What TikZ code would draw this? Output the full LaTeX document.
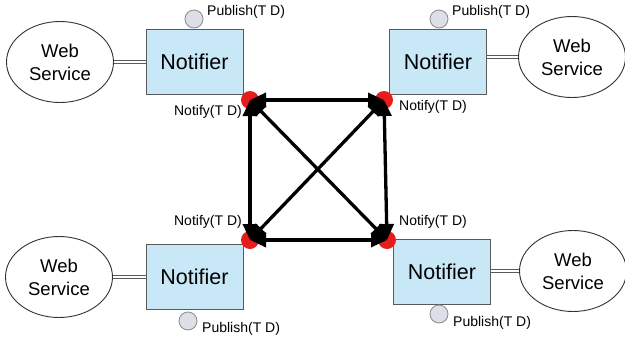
\documentclass[tikz,border=0pt]{standalone}
\usepackage{fontspec}
\setmainfont{Liberation Sans}
\usetikzlibrary{arrows.meta,shapes.geometric}
\definecolor{boxfill}{RGB}{200,232,248}
\definecolor{boxline}{RGB}{90,90,90}
\definecolor{pubfill}{RGB}{220,223,232}
\definecolor{dotred}{RGB}{232,28,28}
\tikzset{
  notifier/.style={draw=boxline, line width=1pt, fill=boxfill, minimum width=97pt, minimum height=65pt, inner sep=0pt, font=\fontsize{21.5}{25}\selectfont},
  service/.style={draw=black!80, line width=0.9pt, ellipse, minimum width=107pt, minimum height=81pt, inner sep=0pt, align=center, font=\fontsize{18.5}{23}\selectfont},
  pubport/.style={circle, draw=black!45, line width=0.8pt, fill=pubfill, minimum size=18pt, inner sep=0pt},
  notifydot/.style={circle, fill=dotred, minimum size=18pt, inner sep=0pt},
  portlabel/.style={font=\fontsize{14}{16}\selectfont, inner sep=0pt},
  servicelink/.style={draw=boxline, line width=4.4pt},
  servicelinkgap/.style={draw=white, line width=1.6pt},
  flow/.style={line width=3.3pt, {Triangle[length=16pt,width=14pt]}-{Triangle[length=16pt,width=14pt]}}
}
\begin{document}
\begin{tikzpicture}[x=1pt, y=-1pt]
\path[use as bounding box, fill=white] (0,0) rectangle (625,341);

% Web services
\node[service] (ws1) at (60,62) {Web\\Service};
\node[service] (ws2) at (572,57) {Web\\Service};
\node[service] (ws3) at (59,277) {Web\\Service};
\node[service] (ws4) at (573,271) {Web\\Service};

% Notifier boxes
\node[notifier] (n1) at (194.5,61.5) {Notifier};
\node[notifier] (n2) at (438,61.5) {Notifier};
\node[notifier] (n3) at (194.5,277) {Notifier};
\node[notifier] (n4) at (442,271.5) {Notifier};

% Service links: a gray bar with a white gap gives a double line
\draw[servicelink] (ws1.east) -- (n1.west |- ws1.east);
\draw[servicelinkgap] (ws1.east) -- (n1.west |- ws1.east);
\draw[servicelink] (ws3.east) -- (n3.west |- ws3.east);
\draw[servicelinkgap] (ws3.east) -- (n3.west |- ws3.east);
\draw[servicelink] (n2.east |- ws2.west) -- (ws2.west);
\draw[servicelinkgap] (n2.east |- ws2.west) -- (ws2.west);
\draw[servicelink] (n4.east |- ws4.west) -- (ws4.west);
\draw[servicelinkgap] (n4.east |- ws4.west) -- (ws4.west);

% Publish ports
\node[pubport] (p1) at (194,19) {};
\node[pubport] (p2) at (439,19) {};
\node[pubport] (p3) at (188,321) {};
\node[pubport] (p4) at (439,314) {};
\node[portlabel, anchor=west] (pl1) at (207,12) {Publish(T D)};
\node[portlabel, anchor=west] (pl2) at (452,12) {Publish(T D)};
\node[portlabel, anchor=west] (pl3) at (202,329) {Publish(T D)};
\node[portlabel, anchor=west] (pl4) at (453,323) {Publish(T D)};

% Notify ports
\node[notifydot] (d1) at (250,100) {};
\node[notifydot] (d2) at (384,100) {};
\node[notifydot] (d3) at (250,240) {};
\node[notifydot] (d4) at (387,240) {};
\node[portlabel, anchor=east] (nl1) at (242,112) {Notify(T D)};
\node[portlabel, anchor=west] (nl2) at (399,107) {Notify(T D)};
\node[portlabel, anchor=east] (nl3) at (242,222) {Notify(T D)};
\node[portlabel, anchor=west] (nl4) at (399,222) {Notify(T D)};

% Notification flows between ports
\draw[flow] (d1.center) -- (d2.center);
\draw[flow] (d3.center) -- (d4.center);
\draw[flow] (d1.center) -- (d3.center);
\draw[flow] (d2.center) -- (d4.center);
\draw[flow] (d1.center) -- (d4.center);
\draw[flow] (d2.center) -- (d3.center);
\end{tikzpicture}
\end{document}
